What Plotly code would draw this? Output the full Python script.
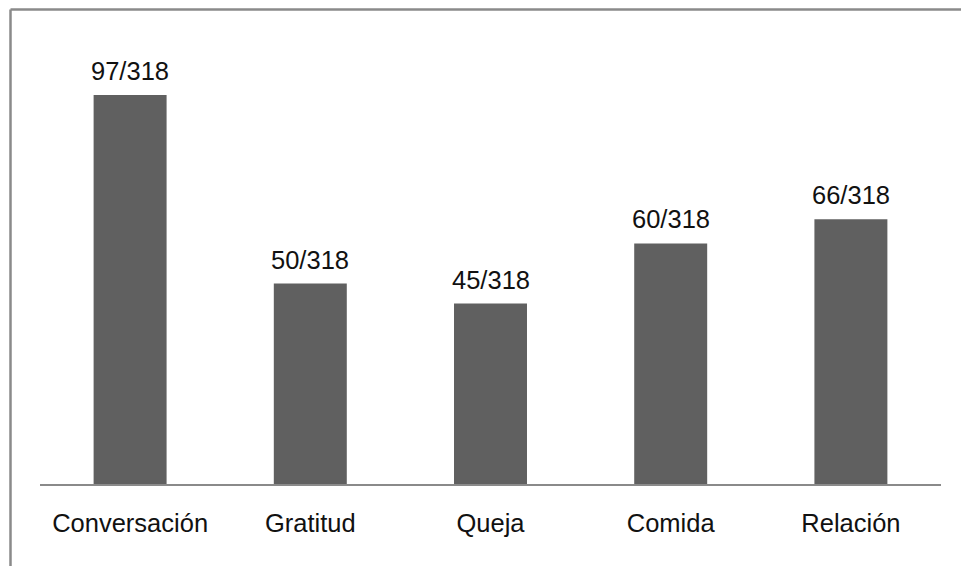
import plotly.graph_objects as go

# Category counts out of the total sample
categories = ["Conversación", "Gratitud", "Queja", "Comida", "Relación"]
counts = [97, 50, 45, 60, 66]
total = 318

labels = [f"{c}/{total}" for c in counts]

BAR_COLOR = "#606060"
FRAME_COLOR = "#8a8a8a"
FONT = "Liberation Sans, Arial, sans-serif"
FSIZE = 25.5

fig = go.Figure()
fig.add_trace(go.Bar(
    x=categories,
    y=counts,
    marker=dict(color=BAR_COLOR, line=dict(width=0)),
    width=0.405,
    hoverinfo="skip",
))

# Value labels above each bar
for cat, val, lab in zip(categories, counts, labels):
    fig.add_annotation(
        x=cat, y=val, text=lab, showarrow=False,
        xref="x", yref="y", yanchor="bottom", yshift=8,
        font=dict(family=FONT, size=FSIZE, color="#111111"),
    )

W, H = 961, 566
ML, MR, MT, MB = 40, 20, 30, 82
pw = W - ML - MR
ph = H - MT - MB

def px_to_paper_x(px):
    return (px - ML) / pw

def px_to_paper_y(py):
    return (H - MB - py) / ph

# Outer frame: top and left edges
fig.add_shape(type="line", xref="paper", yref="paper",
              x0=px_to_paper_x(10.5), x1=px_to_paper_x(970),
              y0=px_to_paper_y(9.5), y1=px_to_paper_y(9.5),
              line=dict(color=FRAME_COLOR, width=2.5))
fig.add_shape(type="line", xref="paper", yref="paper",
              x0=px_to_paper_x(10.5), x1=px_to_paper_x(10.5),
              y0=px_to_paper_y(9.5), y1=px_to_paper_y(580),
              line=dict(color=FRAME_COLOR, width=2.5))

fig.update_layout(
    width=W, height=H,
    margin=dict(l=ML, r=MR, t=MT, b=MB),
    paper_bgcolor="white",
    plot_bgcolor="white",
    showlegend=False,
    font=dict(family=FONT, size=FSIZE, color="#111111"),
    xaxis=dict(
        showline=True, linecolor=FRAME_COLOR, linewidth=2,
        ticks="", showgrid=False, zeroline=False,
        tickfont=dict(family=FONT, size=FSIZE, color="#111111"),
        ticklabelstandoff=15,
        fixedrange=True,
    ),
    yaxis=dict(
        range=[0, ph / 4.01],
        visible=False, showgrid=False, zeroline=False,
        fixedrange=True,
    ),
)

fig.write_html("out.html", config={"displayModeBar": False})
